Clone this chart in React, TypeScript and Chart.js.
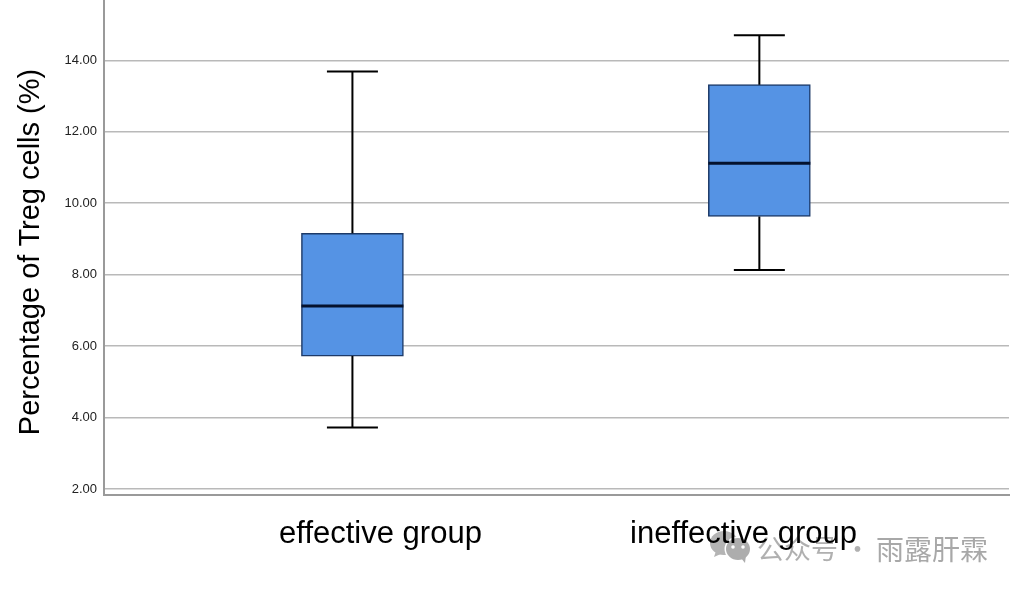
import React, { useEffect, useRef } from "react";
import { Chart, registerables } from "chart.js";

Chart.register(...registerables);

const categories = ["effective group", "ineffective group"];
const xPositions = [1, 2];
const labelPositions = [1.069, 1.961];
const whiskerLow = [3.72, 8.13];
const q1 = [5.72, 9.63];
const median = [7.12, 11.12];
const q3 = [9.16, 13.32];
const whiskerHigh = [13.69, 14.7];
const yTicks = [2, 4, 6, 8, 10, 12, 14];
const yTitle = "Percentage of Treg cells (%)";
const watermarkLeft = "公众号";
const watermarkDot = "·";
const watermarkRight = "雨露肝霖";

const sansFont = '"Liberation Sans", Arial, sans-serif';
const cjkFont = '"Noto Sans CJK SC", sans-serif';

const capHalfWidth = 25.5;

const backdropPlugin = {
  id: "backdrop",
  beforeDraw(chart: any) {
    const ctx = chart.ctx;
    ctx.save();
    // WeChat-style watermark icon
    ctx.fillStyle = "#b4b4b4";
    ctx.beginPath();
    ctx.ellipse(724, 543, 14, 12, 0, 0, Math.PI * 2);
    ctx.fill();
    ctx.beginPath();
    ctx.moveTo(716, 551);
    ctx.lineTo(714, 557);
    ctx.lineTo(723, 553);
    ctx.fill();
    ctx.fillStyle = "#ffffff";
    ctx.beginPath();
    ctx.ellipse(738, 549, 13.5, 12.5, 0, 0, Math.PI * 2);
    ctx.fill();
    ctx.fillStyle = "#adadad";
    ctx.beginPath();
    ctx.ellipse(738, 549, 12, 11, 0, 0, Math.PI * 2);
    ctx.fill();
    ctx.beginPath();
    ctx.moveTo(741, 558);
    ctx.lineTo(745, 563);
    ctx.lineTo(746, 555);
    ctx.fill();
    ctx.fillStyle = "#ffffff";
    ctx.beginPath();
    ctx.arc(733, 547, 1.8, 0, Math.PI * 2);
    ctx.arc(743, 547, 1.8, 0, Math.PI * 2);
    ctx.fill();
    // watermark text
    ctx.fillStyle = "#b0b0b0";
    ctx.textBaseline = "middle";
    ctx.textAlign = "left";
    ctx.font = `27px ${cjkFont}`;
    ctx.fillText(watermarkLeft, 757, 549);
    ctx.fillText(watermarkDot, 844, 549);
    ctx.fillStyle = "#a8a8a8";
    ctx.font = `28px ${cjkFont}`;
    ctx.fillText(watermarkRight, 876, 549);
    // rotated y-axis title
    ctx.translate(30.5, 252);
    ctx.rotate(-Math.PI / 2);
    ctx.textAlign = "center";
    ctx.fillStyle = "#000000";
    ctx.font = `29px ${sansFont}`;
    ctx.fillText(yTitle, 0, 0);
    ctx.restore();
  },
};

const boxPlugin = {
  id: "boxParts",
  afterDatasetsDraw(chart: any) {
    const { ctx, scales } = chart;
    const x = scales.x;
    const y = scales.y;
    ctx.save();
    xPositions.forEach((pos, i) => {
      const cx = x.getPixelForValue(pos);
      ctx.strokeStyle = "#000000";
      ctx.lineWidth = 2;
      ctx.beginPath();
      ctx.moveTo(cx, y.getPixelForValue(q3[i]));
      ctx.lineTo(cx, y.getPixelForValue(whiskerHigh[i]));
      ctx.moveTo(cx - capHalfWidth, y.getPixelForValue(whiskerHigh[i]));
      ctx.lineTo(cx + capHalfWidth, y.getPixelForValue(whiskerHigh[i]));
      ctx.moveTo(cx, y.getPixelForValue(q1[i]));
      ctx.lineTo(cx, y.getPixelForValue(whiskerLow[i]));
      ctx.moveTo(cx - capHalfWidth, y.getPixelForValue(whiskerLow[i]));
      ctx.lineTo(cx + capHalfWidth, y.getPixelForValue(whiskerLow[i]));
      ctx.stroke();
      ctx.strokeStyle = "#04122e";
      ctx.lineWidth = 3;
      ctx.beginPath();
      ctx.moveTo(cx - 51, y.getPixelForValue(median[i]));
      ctx.lineTo(cx + 51, y.getPixelForValue(median[i]));
      ctx.stroke();
    });
    ctx.restore();
  },
};

export default function App() {
  const ref = useRef<HTMLCanvasElement>(null);

  useEffect(() => {
    const chart = new Chart(ref.current as HTMLCanvasElement, {
      type: "bar",
      data: {
        datasets: [
          {
            data: xPositions.map((pos, i) => ({ x: pos, y: [q1[i], q3[i]] })) as any,
            backgroundColor: "#5593e4",
            borderColor: "#1d3a68",
            borderWidth: 1.5,
            borderSkipped: false,
            barThickness: 102,
          },
        ],
      },
      options: {
        animation: false,
        responsive: false,
        layout: { padding: { top: 0, right: 13, bottom: 0, left: 0 } },
        plugins: { legend: { display: false }, tooltip: { enabled: false } },
        scales: {
          x: {
            type: "linear",
            offset: false,
            min: 0.3895,
            max: 2.6135,
            afterBuildTicks: (s: any) => {
              s.ticks = labelPositions.map((value) => ({ value }));
            },
            afterFit: (s: any) => {
              s.height = 95.5;
              s.paddingLeft = 0;
              s.paddingRight = 0;
            },
            grid: { display: false, drawTicks: false, offset: false },
            border: { display: true, color: "#9a9a9a", width: 2 },
            ticks: {
              autoSkip: false,
              maxRotation: 0,
              minRotation: 0,
              padding: 21,
              color: "#000000",
              font: { family: sansFont, size: 31 },
              callback: (_v: any, i: number) => categories[i],
            },
          },
          y: {
            type: "linear",
            min: 1.846,
            max: 15.69,
            afterBuildTicks: (s: any) => {
              s.ticks = yTicks.map((value) => ({ value }));
            },
            afterFit: (s: any) => {
              s.width = 104;
              s.paddingTop = 0;
              s.paddingBottom = 0;
            },
            grid: { color: "#b9b9b9", lineWidth: 1.5, drawTicks: false },
            border: { display: true, color: "#9a9a9a", width: 2 },
            ticks: {
              padding: 7,
              color: "#222222",
              font: { family: sansFont, size: 13 },
              callback: (v: any) => Number(v).toFixed(2),
            },
          },
        },
      },
      plugins: [backdropPlugin, boxPlugin],
    } as any);
    return () => chart.destroy();
  }, []);

  return (
    <div style={{ position: "absolute", left: 0, top: 0, width: 1022, height: 590, background: "#ffffff" }}>
      <canvas ref={ref} width={1022} height={590} style={{ display: "block" }} />
    </div>
  );
}
